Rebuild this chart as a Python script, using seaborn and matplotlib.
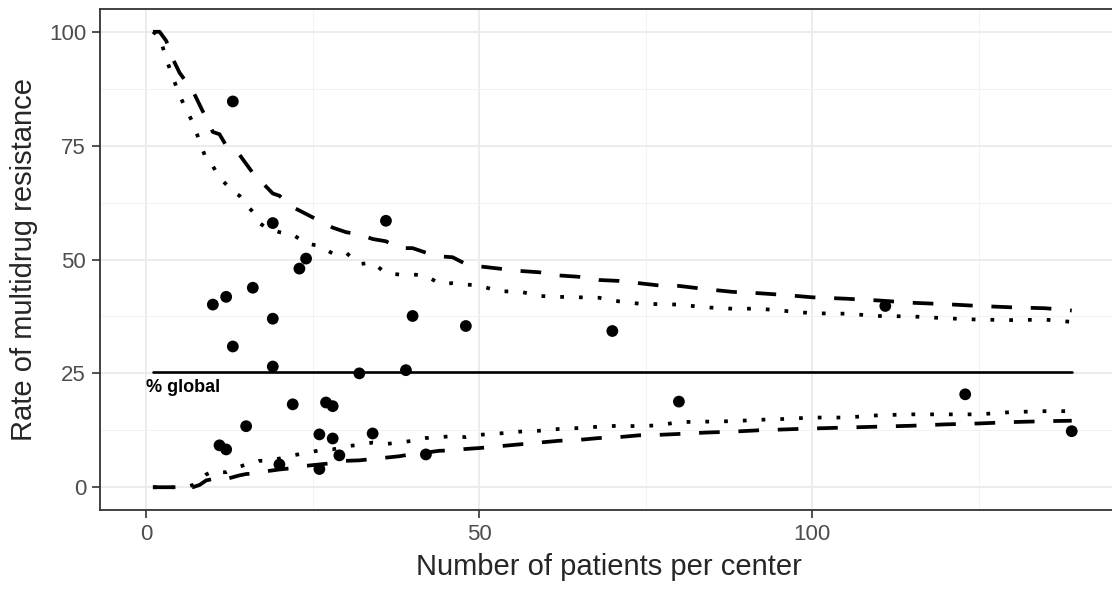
import numpy as np
import pandas as pd
import seaborn as sns
import matplotlib.pyplot as plt
from matplotlib.ticker import MultipleLocator

# centres: patients per center and MDR rate (%)
n_patients = [10, 12, 13, 13, 16, 19, 19, 19, 23, 24, 36, 40, 32, 39, 22, 27, 28,
              15, 11, 12, 26, 28, 34, 29, 42, 26, 20, 48, 70, 80, 123, 111, 139]
mdr_rate = [40.1, 41.8, 84.7, 30.9, 43.8, 58.0, 37.0, 26.5, 48.0, 50.2, 58.5, 37.6,
            25.0, 25.7, 18.2, 18.6, 17.8, 13.4, 9.2, 8.3, 11.6, 10.7, 11.8, 7.0,
            7.2, 4.0, 5.0, 35.4, 34.3, 18.8, 20.4, 39.8, 12.3]

global_rate = 25.4

# funnel limits
lim_n = [1, 2, 3, 4, 5, 6, 7, 8, 9, 10, 11, 12, 13, 14, 15, 16, 17, 18, 19, 20,
         22, 24, 26, 28, 30, 32, 34, 36, 38, 40, 42, 44, 46, 48, 50, 53, 56, 59,
         62, 65, 68, 71, 74, 77, 80, 84, 88, 92, 96, 100, 105, 110, 115, 120,
         125, 130, 135, 139]
upper_998 = [100, 100, 98, 94, 91, 89, 87, 84, 81, 78, 77.5, 75, 74, 73, 71, 69,
             67.5, 66, 64.5, 64, 61.5, 60, 58.5, 57, 56, 55.5, 54.5, 54, 52.5,
             52.5, 51.5, 50.7, 50.5, 49, 48.5, 48, 47.5, 47.2, 46.5, 46.2, 45.5,
             45.3, 44.8, 44.3, 44.2, 43.5, 42.9, 42.6, 42.2, 41.7, 41.4, 41,
             40.5, 40.2, 39.8, 39.5, 39.3, 38.8]
upper_95 = [100, 99, 94, 90, 86, 83, 80, 76, 72, 70.5, 68, 66.5, 65, 64, 62, 60.5,
            58, 57, 56.5, 56, 55.5, 53.5, 53, 51.3, 51.5, 49, 49.3, 47, 46.7,
            46.7, 46.5, 44.7, 44.8, 44.5, 44.3, 43, 43, 42, 41.8, 41.7, 41.6,
            40.8, 40.3, 40.2, 40.1, 39.5, 39.2, 39.2, 38.7, 38.2, 38.1, 37.6,
            37.5, 37.1, 36.8, 36.7, 36.8, 36.3]
lower_95 = [0, 0, 0, 0, 0, 0, 0.5, 1.5, 2.8, 3.5, 3.3, 3.3, 4, 4.5, 5, 5.2, 5.8,
            5.8, 6, 6.3, 7, 7.5, 8.1, 8.3, 9, 9.3, 9.8, 9.5, 9.8, 10.2, 10.8, 11,
            11.2, 11, 11.5, 11.8, 12.2, 12.4, 12.8, 13, 13.3, 13.5, 13.4, 13.6,
            14.3, 14.4, 14.5, 14.8, 15, 15.3, 15.3, 15.8, 16, 16, 16, 16.5, 16.7,
            16.7]
lower_998 = [0, 0, 0, 0, 0, 0, 0, 0.5, 1.5, 1.8, 1.5, 1.8, 2.2, 2.6, 2.9, 3, 3.2,
             3.5, 3.7, 3.9, 4.2, 4.7, 5, 5.3, 5.8, 5.9, 6.2, 6.5, 6.8, 7.3, 7.6,
             8, 8.1, 8.4, 8.6, 9, 9.4, 9.8, 10.2, 10.4, 10.8, 11, 11.4, 11.5,
             11.7, 12, 12.2, 12.5, 12.7, 12.9, 13.1, 13.3, 13.5, 13.8, 14, 14.3,
             14.5, 14.6]

centers = pd.DataFrame({"n": n_patients, "rate": mdr_rate})
limits = pd.DataFrame({"n": lim_n, "u998": upper_998, "u95": upper_95,
                       "l95": lower_95, "l998": lower_998})

sns.set_theme(style="white")
plt.rcParams["font.family"] = ["Liberation Sans", "DejaVu Sans"]

fig = plt.figure(figsize=(11.12, 5.92), dpi=100)
ax = fig.add_axes([100 / 1112, 1 - 510 / 592, 1018 / 1112, 501 / 592])

lw = 2.7
dashed = (0, (5.5, 5))
dotted = (0, (1, 4))
for col, ls in [("u998", dashed), ("l998", dashed), ("u95", dotted), ("l95", dotted)]:
    sns.lineplot(data=limits, x="n", y=col, ax=ax, color="black", linewidth=lw,
                 linestyle=ls, dash_capstyle="butt", zorder=3)

sns.lineplot(x=[1, 139], y=[global_rate, global_rate], ax=ax, color="black",
             linewidth=1.9, zorder=3)
ax.text(0, 22.0, "% global", fontsize=13, fontweight="bold", ha="left",
        va="center", color="black")

sns.scatterplot(data=centers, x="n", y="rate", ax=ax, color="black", s=72,
                edgecolor="none", zorder=4)

ax.set_xlim(-6.95, 145.95)
ax.set_ylim(-5, 105)
ax.xaxis.set_major_locator(MultipleLocator(50))
ax.xaxis.set_minor_locator(MultipleLocator(25))
ax.yaxis.set_major_locator(MultipleLocator(25))
ax.yaxis.set_minor_locator(MultipleLocator(12.5))
ax.grid(which="major", color="#EBEBEB", linewidth=1.3, zorder=0)
ax.grid(which="minor", color="#F3F3F3", linewidth=0.7, zorder=0)
ax.set_axisbelow(True)

for sp in ax.spines.values():
    sp.set_color("#333333")
    sp.set_linewidth(1.3)

ax.tick_params(which="major", length=6, width=1.2, color="#333333",
               labelsize=16, labelcolor="#4D4D4D", pad=4,
               bottom=True, left=True)
ax.tick_params(which="minor", length=0)

ax.set_xlabel("Number of patients per center", fontsize=21, labelpad=6)
ax.set_ylabel("Rate of multidrug resistance", fontsize=21, labelpad=8)

fig.savefig("out.png", dpi=100)
